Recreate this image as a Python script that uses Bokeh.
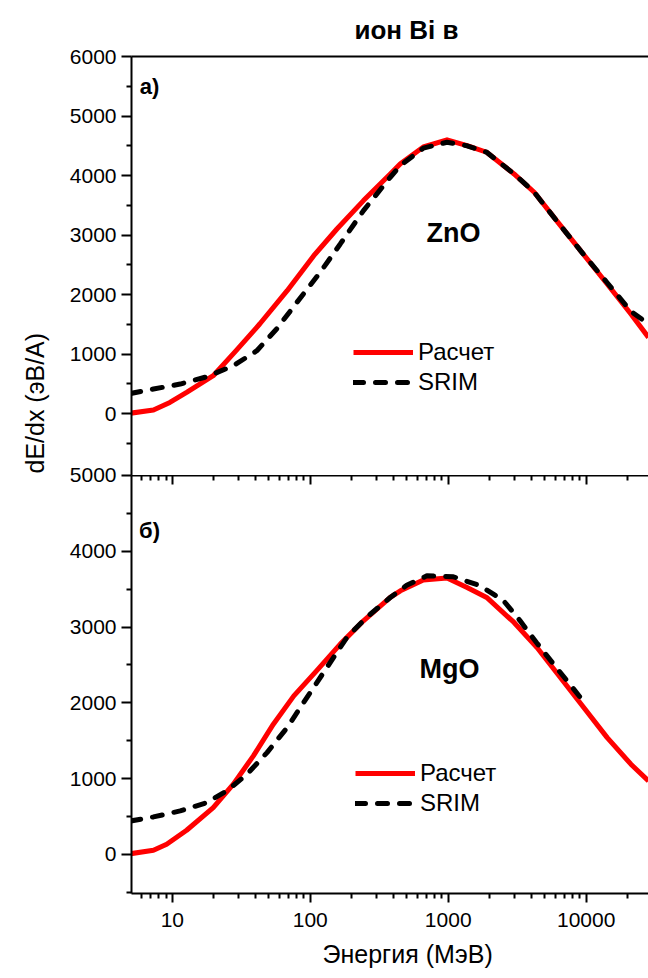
import numpy as np
from bokeh.plotting import figure
from bokeh.layouts import column
from bokeh.models import (LogAxis, FixedTicker, Range1d, Label, Title,
                          Legend, LegendItem, PrintfTickFormatter)
from bokeh.embed import file_html
from bokeh.resources import INLINE

FONT = "Liberation Sans"

# ---------------- data ----------------
x_major = [10, 100, 1000, 10000]
x_minor = [5, 6, 7, 8, 9, 20, 30, 40, 50, 60, 70, 80, 90,
           200, 300, 400, 500, 600, 700, 800, 900,
           2000, 3000, 4000, 5000, 6000, 7000, 8000, 9000, 20000]

zno_calc_e = [5, 7.3, 9.6, 12.7, 19.8, 29, 43, 68, 106, 156, 243, 380, 450, 660,
              980, 1370, 1900, 3000, 4200, 6100, 9100, 14200, 21100, 28300]
zno_calc_v = [10, 62, 190, 358, 639, 1060, 1507, 2067, 2655, 3103, 3580, 4028, 4200, 4480,
              4600, 4504, 4392, 4028, 3720, 3243, 2739, 2179, 1675, 1282]

zno_srim_e = [5, 7.3, 11.4, 17.8, 27.7, 41, 57, 80, 118, 165, 243, 380, 450, 660,
              980, 1370, 1900, 3000, 4200, 6100, 9100, 14200, 21100, 28300]
zno_srim_v = [341, 415, 499, 622, 807, 1059, 1423, 1871, 2375, 2852, 3412, 3972, 4170, 4460,
              4560, 4500, 4392, 4028, 3720, 3243, 2739, 2200, 1720, 1507]

mgo_calc_e = [5, 7.3, 9.1, 12.7, 19.8, 27.7, 38.7, 54, 76, 111, 165, 243, 380, 450, 660,
              980, 1370, 1900, 3000, 4400, 6500, 9600, 14200, 21100, 28300]
mgo_calc_v = [8, 53, 132, 317, 616, 925, 1299, 1717, 2091, 2421, 2774, 3082, 3390, 3478, 3620,
              3646, 3522, 3390, 3060, 2729, 2333, 1937, 1540, 1189, 968]

mgo_srim_e = [5, 7.3, 11.4, 17.8, 24.8, 34.8, 48.6, 68, 94.5, 132, 184, 255, 380, 500, 700,
              1090, 1710, 2520, 3320, 4360, 5800, 7950, 9930]
mgo_srim_v = [440, 493, 572, 682, 836, 1057, 1342, 1672, 2069, 2465, 2861, 3125, 3390, 3550, 3676,
              3663, 3544, 3346, 3082, 2795, 2510, 2201, 1982]

TOP_Y_MIN = -1036
top_y_major = [TOP_Y_MIN, 0, 1000, 2000, 3000, 4000, 5000, 6000]
top_y_minor = [-500, 500, 1500, 2500, 3500, 4500, 5500]
bot_y_major = [0, 1000, 2000, 3000, 4000]
bot_y_minor = [-500, 500, 1500, 2500, 3500, 4500]

series_labels = ["Расчет", "SRIM"]
title_text = "ион Bi в"
ylabel_text = "dE/dx (эВ/А)"
xlabel_text = "Энергия (МэВ)"

# ---------------- layout constants ----------------
W = 648
LEFT = 131
TOP_H = 475          # y of the shared line between the panels
OVER = 14            # overlap strip so the "5000" label is not cut
TOP_BORDER = 56
BOT_H = 978 - TOP_H
BOT_FRAME_H = 418
X_RANGE = (5.06, 28300)

RED = "#ff0000"
BLACK = "#000000"


def style_left_axis(ax, major, minor):
    ax.ticker = FixedTicker(ticks=major, minor_ticks=minor)
    ax.axis_line_width = 2
    ax.major_tick_line_width = 2
    ax.minor_tick_line_width = 2
    ax.major_tick_out = 10
    ax.major_tick_in = 0
    ax.minor_tick_out = 5
    ax.minor_tick_in = 0
    ax.major_label_text_font = FONT
    ax.major_label_text_font_size = "21px"
    ax.major_label_text_color = BLACK
    ax.major_label_standoff = 5


def blank_x_axis(ax, tick_in=0, minor_in=0):
    ax.ticker = FixedTicker(ticks=x_major, minor_ticks=x_minor)
    ax.axis_line_width = 2
    ax.major_tick_line_width = 2
    ax.minor_tick_line_width = 2
    ax.major_tick_out = 0
    ax.minor_tick_out = 0
    ax.major_tick_in = tick_in
    ax.minor_tick_in = minor_in
    ax.major_label_text_font_size = "0px"
    ax.major_label_standoff = 0
    ax.major_label_overrides = {t: "" for t in x_major}


def add_legend(p, r_calc, r_srim, loc):
    leg = Legend(items=[LegendItem(label=series_labels[0], renderers=[r_calc]),
                        LegendItem(label=series_labels[1], renderers=[r_srim])],
                 location=loc)
    leg.label_text_font = FONT
    leg.label_text_font_size = "24px"
    leg.label_text_color = BLACK
    leg.glyph_width = 60
    leg.glyph_height = 28
    leg.label_height = 28
    leg.label_standoff = 5
    leg.spacing = 2
    leg.padding = 0
    leg.margin = 0
    leg.border_line_color = None
    leg.background_fill_alpha = 0
    p.add_layout(leg, "center")


def inner_label(p, x, y, text, size):
    p.add_layout(Label(x=x, y=y, x_units="screen", y_units="screen", text=text,
                       text_font=FONT, text_font_size=size, text_font_style="bold",
                       text_color=BLACK, text_align="center", text_baseline="middle"))


# ---------------- top panel (ZnO) ----------------
p1 = figure(width=W, height=TOP_H + OVER, x_axis_type="log", x_axis_location="above",
            x_range=Range1d(*X_RANGE), y_range=Range1d(TOP_Y_MIN - 1, 6000),
            min_border_left=LEFT, min_border_right=0, min_border_top=TOP_BORDER,
            min_border_bottom=OVER, toolbar_location=None, output_backend="svg")
p1.styles = {"margin-bottom": f"-{OVER}px"}
p1.grid.visible = False
p1.outline_line_color = None
p1.border_fill_color = None
blank_x_axis(p1.xaxis[0])
style_left_axis(p1.yaxis[0], top_y_major, top_y_minor)
p1.yaxis[0].major_label_overrides = {TOP_Y_MIN: "5000"}

r1c = p1.line(zno_calc_e, zno_calc_v, line_color=RED, line_width=5, line_join="round")
r1s = p1.line(zno_srim_e, zno_srim_v, line_color=BLACK, line_width=5,
              line_dash="10 12", line_cap="round")
add_legend(p1, r1c, r1s, (222, 79))

p1.add_layout(Title(text=title_text, align="left", offset=354 - LEFT, standoff=24,
                    text_font=FONT, text_font_size="26px", text_font_style="bold",
                    text_color=BLACK), "above")
p1.add_layout(Title(text=ylabel_text, align="left", offset=2, standoff=36,
                    text_font=FONT, text_font_size="25px", text_font_style="normal",
                    text_color=BLACK), "left")
inner_label(p1, 18, TOP_H - 86, "а)", "22px")
inner_label(p1, 453 - LEFT, TOP_H - 232, "ZnO", "27px")

# ---------------- bottom panel (MgO) ----------------
p2 = figure(width=W, height=BOT_H, x_axis_type="log", x_axis_location="below",
            x_range=Range1d(*X_RANGE), y_range=Range1d(-518, 5000),
            min_border_left=LEFT, min_border_right=0, min_border_top=0,
            min_border_bottom=BOT_H - BOT_FRAME_H, toolbar_location=None,
            output_backend="svg")
p2.grid.visible = False
p2.outline_line_color = None
p2.background_fill_color = None
p2.border_fill_color = None
style_left_axis(p2.yaxis[0], bot_y_major, bot_y_minor)

xa = p2.xaxis[0]
xa.ticker = FixedTicker(ticks=x_major, minor_ticks=x_minor)
xa.formatter = PrintfTickFormatter(format="%d")
xa.axis_line_width = 2
xa.major_tick_line_width = 2
xa.minor_tick_line_width = 2
xa.major_tick_out = 9
xa.major_tick_in = 0
xa.minor_tick_out = 5
xa.minor_tick_in = 0
xa.major_label_text_font = FONT
xa.major_label_text_font_size = "21px"
xa.major_label_text_color = BLACK
xa.major_label_standoff = 10

top_ax = LogAxis()
blank_x_axis(top_ax, tick_in=9, minor_in=5)
p2.add_layout(top_ax, "above")

r2c = p2.line(mgo_calc_e, mgo_calc_v, line_color=RED, line_width=5, line_join="round")
r2s = p2.line(mgo_srim_e, mgo_srim_v, line_color=BLACK, line_width=5,
              line_dash="10 12", line_cap="round")
add_legend(p2, r2c, r2s, (224, 76))

inner_label(p2, 18, BOT_FRAME_H - (530 - TOP_H), "б)", "22px")
inner_label(p2, 449 - LEFT, BOT_FRAME_H - (668 - TOP_H), "MgO", "27px")

p2.add_layout(Title(text=xlabel_text, align="left", offset=322 - LEFT, standoff=17,
                    text_font=FONT, text_font_size="25px", text_font_style="normal",
                    text_color=BLACK), "below")

layout = column(p1, p2, spacing=0)
open("out.html", "w").write(file_html(layout, INLINE))
